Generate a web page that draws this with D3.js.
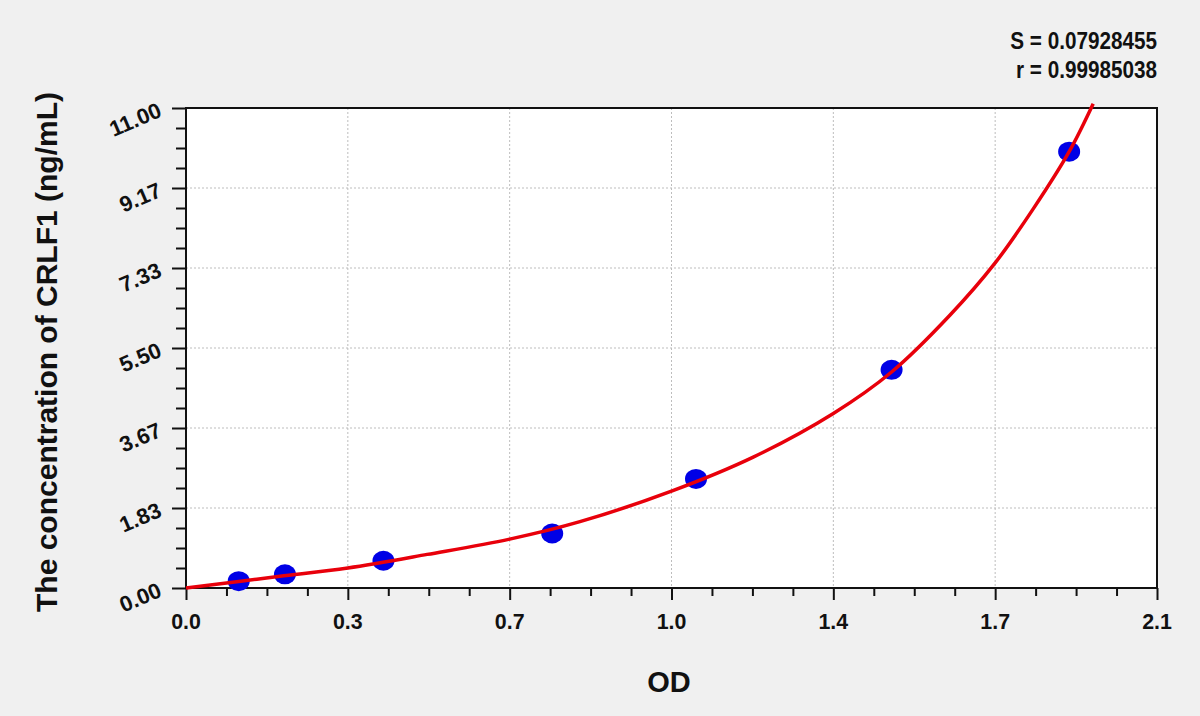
<!DOCTYPE html>
<html><head><meta charset="utf-8">
<script src="https://cdn.jsdelivr.net/npm/d3@7"></script>
<style>
html,body{margin:0;padding:0;background:#f0f0f0;}
text{font-family:"Liberation Sans",Arial,sans-serif;font-weight:bold;fill:#111;}
</style></head>
<body>
<svg id="c" width="1200" height="716"></svg>
<script>
// ---- data ----
const odValues   = [0.114, 0.214, 0.427, 0.792, 1.103, 1.526, 1.910];
const concValues = [0.156, 0.313, 0.625, 1.25, 2.5, 5.0, 10.0];
const curveOD    = [0, 0.114, 0.2033, 0.35, 0.5216, 0.7, 0.852, 1.05, 1.2268, 1.4, 1.526, 1.652, 1.75, 1.833, 1.91, 1.962];
const curveConc  = [0, 0.15, 0.27, 0.46, 0.77, 1.12, 1.52, 2.22, 3.0, 4.0, 4.95, 6.25, 7.45, 8.7, 10.0, 11.1];
const xTickValues = [0, 0.35, 0.7, 1.05, 1.4, 1.75, 2.1];
const xTickLabels = ["0.0", "0.3", "0.7", "1.0", "1.4", "1.7", "2.1"];
const yTickValues = [0, 11/6, 22/6, 33/6, 44/6, 55/6, 11];
const yTickLabels = ["0.00", "1.83", "3.67", "5.50", "7.33", "9.17", "11.00"];
const statLines = ["S = 0.07928455", "r = 0.99985038"];
const xTitle = "OD";
const yTitle = "The concentration of CRLF1 (ng/mL)";

// ---- layout ----
const L = 186, R = 1157, T = 108, B = 588;
const svg = d3.select("#c");
const x = d3.scaleLinear().domain([0, 2.1]).range([L, R]);
const y = d3.scaleLinear().domain([0, 11]).range([B, T]);

svg.append("rect").attr("x", L).attr("y", T).attr("width", R - L).attr("height", B - T).attr("fill", "#fff");

// grid
const grid = svg.append("g").attr("stroke", "#bdbdbd").attr("stroke-width", 1).attr("stroke-dasharray", "2,2");
xTickValues.slice(1, -1).forEach(v => grid.append("line").attr("x1", x(v)).attr("x2", x(v)).attr("y1", T).attr("y2", B));
yTickValues.slice(1, -1).forEach(v => grid.append("line").attr("y1", y(v)).attr("y2", y(v)).attr("x1", L).attr("x2", R));

// ticks: minor + major
const xMinor = d3.range(0, 25).filter(i => i % 4).map(i => i * 2.1 / 24);
const yMinor = d3.range(0, 25).filter(i => i % 4).map(i => i * 11 / 24);

function styleAxis(g) {
  g.select(".domain").remove();
  g.selectAll("line").attr("stroke", "#111").attr("stroke-width", 2);
}
svg.append("g").attr("transform", `translate(0,${B})`)
  .call(d3.axisBottom(x).tickValues(xMinor).tickSize(8).tickFormat("")).call(styleAxis);
svg.append("g").attr("transform", `translate(0,${B})`)
  .call(d3.axisBottom(x).tickValues(xTickValues).tickSize(12).tickFormat("")).call(styleAxis);
svg.append("g").attr("transform", `translate(${L},0)`)
  .call(d3.axisLeft(y).tickValues(yMinor).tickSize(10).tickFormat("")).call(styleAxis);
svg.append("g").attr("transform", `translate(${L},0)`)
  .call(d3.axisLeft(y).tickValues(yTickValues).tickSize(14).tickFormat("")).call(styleAxis);

// x tick labels
svg.append("g").selectAll("text").data(xTickValues).join("text")
  .attr("text-anchor", "middle")
  .attr("font-size", 23)
  .attr("transform", d => `translate(${x(d)},629) scale(0.93,1)`)
  .text((d, i) => xTickLabels[i]);

// y tick labels (rotated)
svg.append("g").selectAll("text").data(yTickValues).join("text")
  .attr("text-anchor", "end")
  .attr("font-size", 22)
  .attr("transform", d => `translate(163,${y(d) + 8}) rotate(-23)`)
  .text((d, i) => yTickLabels[i]);

// border
svg.append("rect").attr("x", L).attr("y", T).attr("width", R - L).attr("height", B - T)
  .attr("fill", "none").attr("stroke", "#111").attr("stroke-width", 2);

// fitted curve
const pts = curveOD.map((v, i) => [v, curveConc[i]]);
const line = d3.line().x(d => x(d[0])).y(d => y(d[1])).curve(d3.curveCatmullRom.alpha(0.5));

// points
svg.append("g").selectAll("ellipse").data(odValues).join("ellipse")
  .attr("cx", d => x(d)).attr("cy", (d, i) => y(concValues[i]))
  .attr("rx", 11).attr("ry", 10).attr("fill", "#0000e6");

svg.append("path").attr("d", line(pts)).attr("fill", "none").attr("stroke", "#e8000b").attr("stroke-width", 3.5);

// titles
svg.append("text").attr("x", 669).attr("y", 692).attr("text-anchor", "middle").attr("font-size", 29).text(xTitle);
svg.append("text").attr("transform", "translate(57,352) rotate(-90)").attr("text-anchor", "middle").attr("font-size", 30).text(yTitle);

// stats
svg.append("g").selectAll("text").data(statLines).join("text")
  .attr("text-anchor", "end").attr("font-size", 23)
  .attr("transform", (d, i) => `translate(1157,${49 + i * 29}) scale(0.9,1)`)
  .text(d => d);
</script>
</body></html>
